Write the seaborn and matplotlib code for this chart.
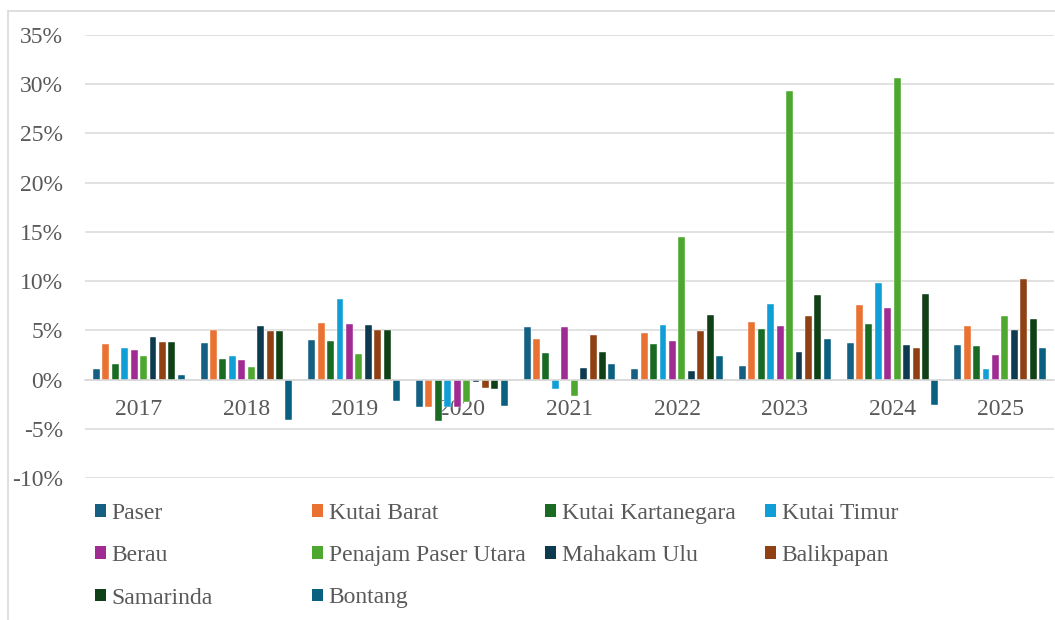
import matplotlib
matplotlib.use("Agg")
import matplotlib.pyplot as plt
from matplotlib.lines import Line2D
from matplotlib.patches import Patch
import pandas as pd
import seaborn as sns

####################################
# data (growth %)
####################################
years = ["2017", "2018", "2019", "2020", "2021", "2022", "2023", "2024", "2025"]
regions = [
    "Paser", "Kutai Barat", "Kutai Kartanegara", "Kutai Timur", "Berau",
    "Penajam Paser Utara", "Mahakam Ulu", "Balikpapan", "Samarinda", "Bontang",
]
paser = [1.1, 3.7, 4.0, -2.8, 5.35, 1.05, 1.35, 3.75, 3.55]
kutai_barat = [3.6, 5.05, 5.7, -2.8, 4.15, 4.75, 5.8, 7.6, 5.45]
kutai_kartanegara = [1.6, 2.1, 3.9, -4.2, 2.65, 3.65, 5.1, 5.6, 3.4]
kutai_timur = [3.2, 2.35, 8.15, -2.8, -0.95, 5.55, 7.7, 9.8, 1.05]
berau = [3.0, 2.0, 5.6, -2.8, 5.35, 3.95, 5.45, 7.25, 2.45]
ppu = [2.35, 1.25, 2.55, -2.3, -1.7, 14.5, 29.35, 30.6, 6.5]
mahakam_ulu = [4.3, 5.4, 5.5, -0.2, 1.2, 0.85, 2.75, 3.55, 5.05]
balikpapan = [3.8, 4.95, 5.0, -0.85, 4.55, 4.95, 6.45, 3.2, 10.25]
samarinda = [3.85, 4.95, 5.0, -0.95, 2.75, 6.6, 8.6, 8.7, 6.2]
bontang = [0.5, -4.1, -2.2, -2.7, 1.55, 2.4, 4.1, -2.55, 3.2]

colors = [
    "#156082", "#E97132", "#196B24", "#0F9ED5", "#A02B93",
    "#4EA72E", "#0D3A4E", "#8F4114", "#0F4016", "#09607F",
]

series = [paser, kutai_barat, kutai_kartanegara, kutai_timur, berau,
          ppu, mahakam_ulu, balikpapan, samarinda, bontang]
df = pd.DataFrame(
    [(y, r, v) for r, vals in zip(regions, series) for y, v in zip(years, vals)],
    columns=["year", "region", "growth"],
)

####################################
# plot
####################################
sns.set_style("white")
plt.rcParams["font.family"] = ["Liberation Serif", "DejaVu Serif"]
text_col = "#595959"
grid_col = "#d9d9d9"
fs = 17

fig = plt.figure(figsize=(10.55, 6.2), dpi=100)
ax = fig.add_axes([85 / 1055, 1 - 478 / 620, 969 / 1055, 443 / 620])

sns.barplot(
    data=df, x="year", y="growth", hue="region",
    order=years, hue_order=regions, palette=colors, saturation=1,
    width=0.877, gap=0.26, edgecolor="white", linewidth=0.3,
    errorbar=None, ax=ax,
)
ax.legend_.remove()

ax.set_ylim(-10, 35)
ax.set_yticks(range(-10, 36, 5))
ax.set_yticklabels([f"{t}%" for t in range(-10, 36, 5)])
ax.grid(axis="y", color=grid_col, linewidth=1.1)
ax.set_axisbelow(True)
for s in ["top", "right", "left"]:
    ax.spines[s].set_visible(False)
ax.spines["bottom"].set_position(("data", 0))
ax.spines["bottom"].set_color(grid_col)
ax.spines["bottom"].set_linewidth(1.1)
ax.tick_params(axis="y", length=0, pad=16, labelsize=fs, labelcolor=text_col)
ax.tick_params(axis="x", length=0, pad=14, labelsize=fs, labelcolor=text_col)
ax.set_xlabel("")
ax.set_ylabel("")

# legend: 4 columns laid out like the original (row-wise order)
cols_x = [95, 312, 545, 765]
for c, x in enumerate(cols_x):
    idx = list(range(c, len(regions), 4))
    handles = [Patch(facecolor=colors[i], edgecolor="none") for i in idx]
    fig.legend(
        handles, [regions[i] for i in idx],
        loc="upper left", bbox_to_anchor=(x / 1055, 1 - 503 / 620),
        frameon=False, fontsize=fs, labelcolor=text_col,
        handlelength=0.45, handleheight=0.45, handletextpad=0.25,
        labelspacing=0.9, borderpad=0, borderaxespad=0,
    )

# light chart border (left and top visible in original)
fig.add_artist(Line2D([8 / 1055, 8 / 1055], [0, 1 - 11 / 620],
                      color=grid_col, linewidth=1.2, transform=fig.transFigure))
fig.add_artist(Line2D([8 / 1055, 1], [1 - 11 / 620, 1 - 11 / 620],
                      color=grid_col, linewidth=1.2, transform=fig.transFigure))

fig.savefig("out.png", dpi=100)
